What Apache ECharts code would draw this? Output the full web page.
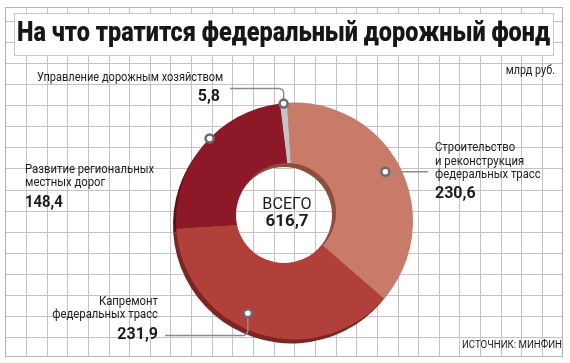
<!DOCTYPE html>
<html><head><meta charset="utf-8">
<script src="https://cdn.jsdelivr.net/npm/echarts@6/dist/echarts.min.js"></script>
<style>html,body{margin:0;padding:0;background:#fff}#c{width:570px;height:363px}</style>
</head><body><div id="c"></div>
<script>
// ---- data ----
const categories = ['Строительство и реконструкция федеральных трасс', 'Капремонт федеральных трасс', 'Развитие региональных местных дорог', 'Управление дорожным хозяйством'];
const values = [230.6, 231.9, 148.4, 5.8];
const valueLabels = ['230,6', '231,9', '148,4', '5,8'];
const labelTexts = [
  ['Строительство', 'и реконструкция', 'федеральных трасс'],
  ['Капремонт', 'федеральных трасс'],
  ['Развитие региональных', 'местных дорог'],
  ['Управление дорожным хозяйством']
];
const totalCaption = 'ВСЕГО';
const totalLabel = '616,7';
const titleText = 'На что тратится федеральный дорожный фонд';
const unitText = 'млрд руб.';
const sourceText = 'ИСТОЧНИК: МИНФИН';

// ---- style ----
const colors = ['#c87b69', '#b1403a', '#8c1828', '#c4c4c4'];
const sideColors = ['#97533f', '#7a2622', '#5e0f18', '#8a8a8a'];
const CX = 294.5, CY = 221, R = 118.5, START = 93.6;
const DX = -3, DY = 4;
// hole (offset, 3D look)
const HX = 284, HY = 215, HR = 48;
const WX = 287, WY = 212, WR = 49;

const chart = echarts.init(document.getElementById('c'), null, {renderer: 'canvas'});

const g = [];
const gridColor = '#c3c3c3';
const X0 = 5, X1 = 562, Y0 = 7, Y1 = 356;
const vx = [], hy = [];
for (let k = 0; k <= 25; k++) vx.push(Math.round(26 + k * 20.64) + 0.5);
for (let k = 0; k <= 15; k++) hy.push(Math.round(21 + k * 21.07) + 0.5);
function ln(x1, y1, x2, y2, z) {
  return {type: 'line', z: z, silent: true, shape: {x1, y1, x2, y2}, style: {stroke: gridColor, lineWidth: 1}};
}
vx.forEach(x => g.push(ln(x, Y0, x, Y1, 1)));
hy.forEach(y => g.push(ln(X0, y, X1, y, 1)));
g.push({type: 'rect', z: 1, silent: true, shape: {x: X0 + 0.5, y: Y0 + 0.5, width: X1 - X0, height: Y1 - Y0}, style: {fill: 'none', stroke: '#b5b5b5', lineWidth: 1.2}});
g.push({type: 'rect', z: 5, silent: true, shape: {x: 14.5, y: 13.5, width: 539, height: 42}, style: {fill: '#fff', stroke: '#c6c6c6', lineWidth: 1}});

// hole: inner wall + white opening with grid visible through it
g.push({type: 'circle', z: 10, silent: true, shape: {cx: WX, cy: WY, r: WR}, style: {fill: '#8e4c3c'}});
g.push({type: 'circle', z: 11, silent: true, shape: {cx: HX, cy: HY, r: HR}, style: {fill: '#fff'}});
vx.forEach(x => { const d = HR * HR - (x - HX) * (x - HX); if (d > 0) { const s = Math.sqrt(d); g.push(ln(x, HY - s, x, HY + s, 12)); } });
hy.forEach(y => { const d = HR * HR - (y - HY) * (y - HY); if (d > 0) { const s = Math.sqrt(d); g.push(ln(HX - s, y, HX + s, y, 12)); } });

// title fitted to width
const cv = document.createElement('canvas').getContext('2d');
const titleFont = '900 27px Roboto';
cv.font = titleFont;
const titleScale = 533 / cv.measureText(titleText).width;
g.push({type: 'text', z: 6, silent: true, x: 17, y: 34, scaleX: titleScale, style: {text: titleText, font: titleFont, fill: '#161616', textVerticalAlign: 'middle', textAlign: 'left'}});

const lblFont = '13px Roboto';
const valFont = 'bold 16px Roboto';
const txtCol = '#1c1c1c';
function textEl(x, y, text, font, align, sx) {
  return {type: 'text', z: 20, silent: true, x: x, y: y, scaleX: sx || 1, style: {text: text, font: font, fill: txtCol, textAlign: align || 'left', textVerticalAlign: 'middle'}};
}

// marker positions from the data (angle within slice, radius fraction)
const total = values.reduce((a, b) => a + b, 0);
const markerT = [0.484, 0.56, 0.552, 0.5];
const markerR = [0.872, 0.873, 1.0, 0.995];
const markers = [];
let acc = 90 - START;
values.forEach((v, i) => {
  const span = v / total * 360;
  const a = (acc + span * markerT[i]) * Math.PI / 180;
  const rr = R * markerR[i];
  markers.push([CX + rr * Math.sin(a), CY - rr * Math.cos(a)]);
  acc += span;
});

const lineStyle = {stroke: '#8c8c8c', lineWidth: 1.5, fill: 'none'};
g.push({type: 'polyline', z: 18, silent: true, shape: {points: [markers[0], [428, markers[0][1]]]}, style: lineStyle});
{
  const [mx, my] = markers[1];
  g.push({type: 'polyline', z: 18, silent: true, shape: {points: [[mx, my], [mx, 331], [mx - 1.2, 334], [mx - 4, 335.5], [165, 335.5]]}, style: lineStyle});
}
{
  const [mx, my] = markers[3];
  g.push({type: 'polyline', z: 18, silent: true, shape: {points: [[mx, my], [mx, 92], [mx - 1.2, 89.5], [mx - 4, 88.5], [230, 88.5]]}, style: lineStyle});
}
markers.forEach(m => {
  g.push({type: 'circle', z: 19, silent: true, shape: {cx: m[0], cy: m[1], r: 4}, style: {fill: '#fff', stroke: '#6c6c6c', lineWidth: 2.5}});
});

const LS = 0.87;
labelTexts[0].forEach((t, j) => g.push(textEl(435, 148 + j * 13.5, t, lblFont, 'left', LS)));
g.push(textEl(435, 194, valueLabels[0], valFont));
labelTexts[1].forEach((t, j) => g.push(textEl(158, 302 + j * 12.5, t, lblFont, 'right', LS)));
g.push(textEl(158, 335, valueLabels[1], valFont, 'right'));
labelTexts[2].forEach((t, j) => g.push(textEl(25, 170 + j * 13, t, lblFont, 'left', LS)));
g.push(textEl(25, 203, valueLabels[2], valFont, 'left', 0.93));
labelTexts[3].forEach((t, j) => g.push(textEl(37, 78, t, lblFont, 'left', 0.85)));
g.push(textEl(220, 97, valueLabels[3], valFont, 'right'));

g.push(textEl(287, 205, totalCaption, '17px Roboto', 'center', 0.95));
g.push(textEl(287, 222, totalLabel, 'bold 17px Roboto', 'center'));
g.push(textEl(555, 71, unitText, '12px Roboto', 'right', 0.9));
g.push(textEl(562, 345, sourceText, '10.5px Roboto', 'right', 0.92));

const pieData = categories.map((c, i) => ({name: c, value: values[i], itemStyle: {color: colors[i]}}));
const sideData = categories.map((c, i) => ({name: c, value: values[i], itemStyle: {color: sideColors[i]}}));

chart.setOption({
  animation: false,
  graphic: {elements: g},
  series: [
    {type: 'pie', z: 2, silent: true, center: [CX + DX, CY + DY], radius: [0, R], startAngle: START, clockwise: true,
      label: {show: false}, labelLine: {show: false}, emphasis: {disabled: true}, data: sideData},
    {type: 'pie', z: 3, silent: true, center: [CX, CY], radius: [0, R], startAngle: START, clockwise: true,
      label: {show: false}, labelLine: {show: false}, emphasis: {disabled: true}, data: pieData}
  ]
});
</script></body></html>
